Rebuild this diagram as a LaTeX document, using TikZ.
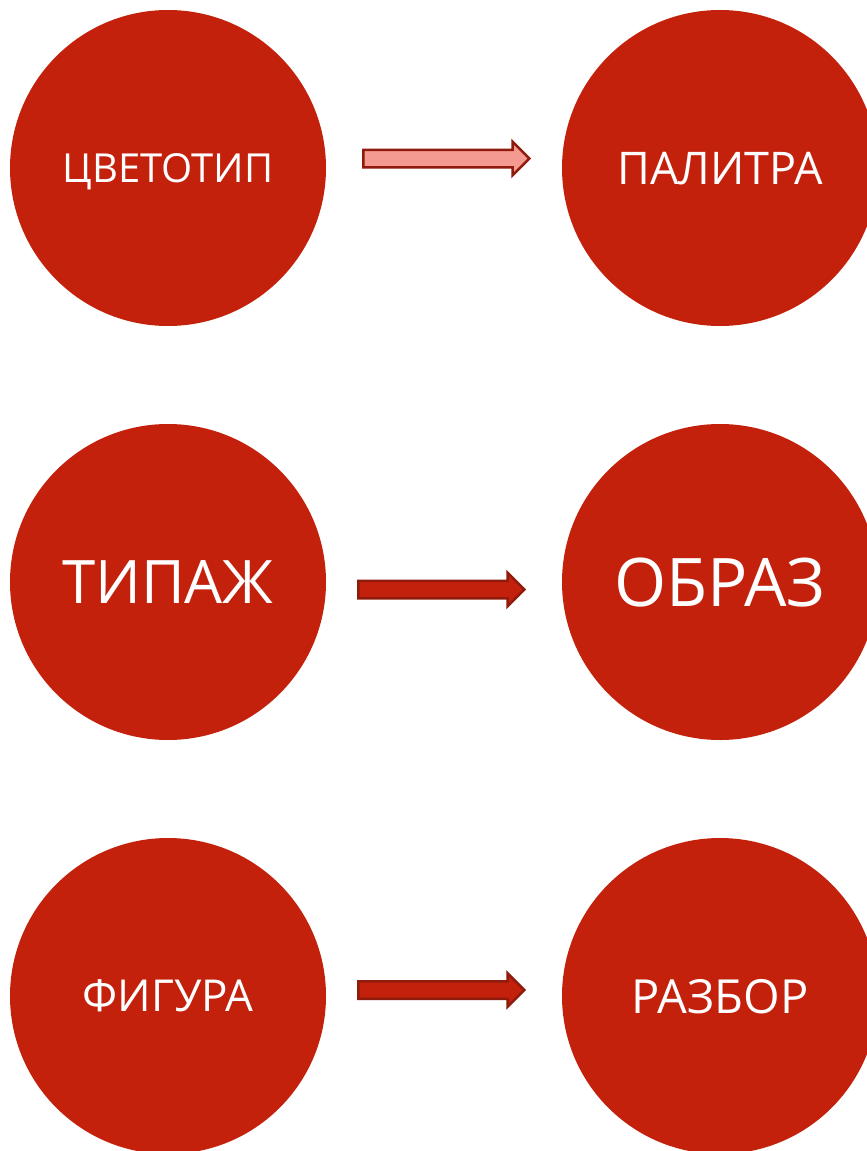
\documentclass[tikz,border=0pt]{standalone}
\usepackage{fontspec}
\setmainfont{Open Sans}
\usepackage{xcolor}
\usepackage{tikz}
\usetikzlibrary{shapes,arrows,positioning}
\definecolor{discred}{HTML}{C4210D}
\definecolor{arrowline}{HTML}{8E1B0B}
\definecolor{arrowpink}{HTML}{F59A90}

\begin{document}
\begin{tikzpicture}[x=1pt,y=1pt,
    disc/.style={circle, fill=discred, minimum size=316pt, inner sep=0pt, text depth=0pt, text=white},
    flow/.style={single arrow, draw=arrowline, line width=2.5pt, fill=discred, inner xsep=0pt, inner ysep=7.5pt, single arrow head extend=8pt, minimum height=166pt}]
    \clip (0,0) rectangle (867,-1151);
    \fill [white] (0,0) rectangle (867,-1151);
    \node [disc] (tsvet) at (168,-168) {\fontsize{40}{48}\selectfont ЦВЕТОТИП};
    \node [disc] (pal) at (720,-168) {\fontsize{45}{54}\selectfont ПАЛИТРА};
    \node [disc] (tip) at (168,-582) {\fontsize{60}{72}\selectfont ТИПАЖ};
    \node [disc] (obr) at (720,-582) {\fontsize{67}{80}\selectfont ОБРАЗ};
    \node [disc] (fig) at (168,-996) {\fontsize{44}{53}\selectfont ФИГУРА};
    \node [disc] (razb) at (720,-996) {\fontsize{47}{56}\selectfont РАЗБОР};
    \node [flow, fill=arrowpink] (a1) at (442,-158.5) {};
    \node [flow] (a2) at (437,-589.5) {};
    \node [flow] (a3) at (437,-990) {};
\end{tikzpicture}
\end{document}
